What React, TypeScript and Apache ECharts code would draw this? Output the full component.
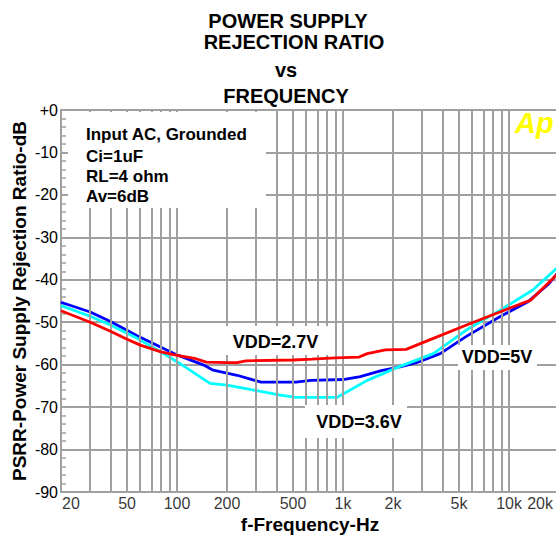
import React, { useEffect, useRef } from "react";
import * as echarts from "echarts";

// ---- data ----
const freqs27 = [20, 30, 40, 50, 60, 80, 100, 130, 150, 200, 230, 260, 500, 650, 900, 1250, 1400, 1800, 2400, 3500, 5500, 8800, 10500, 13500, 20000];
const psrr27 = [-47.3, -50.0, -52.2, -54.0, -55.4, -57.0, -57.8, -58.6, -59.4, -59.5, -59.5, -59.1, -58.9, -58.7, -58.4, -58.2, -57.4, -56.5, -56.4, -53.8, -50.7, -47.6, -46.4, -44.8, -38.3];

const freqs5 = [20, 30, 40, 57.5, 83, 100, 145, 165, 230, 320, 520, 640, 1000, 1270, 1700, 2200, 2750, 3850, 5500, 8800, 13000, 17400, 20000];
const psrr5 = [-45.3, -47.6, -49.9, -53.2, -56.2, -57.7, -60.1, -61.3, -62.5, -64.1, -64.1, -63.7, -63.5, -62.8, -61.4, -60.5, -59.6, -57.4, -53.4, -48.7, -45.2, -40.9, -38.0];

const freqs36 = [20, 30, 40, 57.5, 80, 100, 158, 200, 290, 420, 520, 920, 1000, 1400, 2200, 3500, 5500, 8800, 13900, 20000];
const psrr36 = [-46.1, -48.6, -50.7, -53.8, -57.0, -59.3, -64.4, -64.8, -66.0, -67.2, -67.7, -67.7, -66.9, -63.7, -60.4, -57.4, -51.9, -47.2, -42.4, -36.8];

const gridFreqs = [30, 40, 50, 60, 70, 80, 90, 100, 200, 300, 400, 500, 600, 700, 800, 900, 1000, 2000, 3000, 4000, 5000, 6000, 7000, 8000, 9000, 10000];
const xTickFreqs = [20, 50, 100, 200, 500, 1000, 2000, 5000, 10000, 20000];
const xTickLabels = ["20", "50", "100", "200", "500", "1k", "2k", "5k", "10k", "20k"];

const titleLines = ["POWER SUPPLY", "REJECTION RATIO", "vs", "FREQUENCY"];
const noteLines = ["Input AC, Grounded", "Ci=1uF", "RL=4 ohm", "Av=6dB"];
const curveLabels = ["VDD=2.7V", "VDD=3.6V", "VDD=5V"];

const FONT = "'Liberation Sans', Arial, Helvetica, sans-serif";
const GRID_COLOR = "#a0a0a0";

function zip(xs: number[], ys: number[]) {
  return xs.map((x, i) => [x, ys[i]]);
}

export default function App() {
  const ref = useRef<HTMLDivElement | null>(null);

  useEffect(() => {
    if (!ref.current) return;
    const chart = echarts.init(ref.current, undefined, { renderer: "svg" });

    const titlePos = [
      [288, 20.5],
      [294, 41.5],
      [286, 70],
      [286, 96],
    ];
    const notePos = [134, 156, 176, 196];
    const labelPos = [
      [275.5, 341.8],
      [359, 421.8],
      [497, 356.8],
    ];

    const graphic: any[] = [
      // white boxes behind annotations
      { type: "rect", z: 100, shape: { x: 68, y: 112, width: 198, height: 96 }, style: { fill: "#fff" } },
      { type: "rect", z: 100, shape: { x: 222, y: 326, width: 108, height: 29 }, style: { fill: "#fff" } },
      { type: "rect", z: 100, shape: { x: 305, y: 405, width: 102, height: 33 }, style: { fill: "#fff" } },
      { type: "rect", z: 100, shape: { x: 458, y: 345, width: 79, height: 25 }, style: { fill: "#fff" } },
    ];
    titleLines.forEach((t, i) => {
      graphic.push({
        type: "text", z: 101, x: titlePos[i][0], y: titlePos[i][1],
        style: { text: t, font: `bold 20px ${FONT}`, fill: "#000", align: "center", verticalAlign: "middle" },
      });
    });
    noteLines.forEach((t, i) => {
      graphic.push({
        type: "text", z: 101, x: 86, y: notePos[i],
        style: { text: t, font: `bold 17px ${FONT}`, fill: "#000", align: "left", verticalAlign: "middle" },
      });
    });
    curveLabels.forEach((t, i) => {
      graphic.push({
        type: "text", z: 101, x: labelPos[i][0], y: labelPos[i][1],
        style: { text: t, font: `bold 18px ${FONT}`, fill: "#000", align: "center", verticalAlign: "middle" },
      });
    });
    graphic.push({
      type: "text", z: 101, x: 515, y: 123,
      style: { text: "Ap", font: `italic bold 29px ${FONT}`, fill: "#ffff00", align: "left", verticalAlign: "middle" },
    });
    graphic.push({
      type: "text", z: 101, x: 310, y: 524.5,
      style: { text: "f-Frequency-Hz", font: `bold 19px ${FONT}`, fill: "#000", align: "center", verticalAlign: "middle" },
    });
    graphic.push({
      type: "text", z: 101, x: 19, y: 301, rotation: Math.PI / 2,
      style: { text: "PSRR-Power Supply Rejection Ratio-dB", font: `bold 19px ${FONT}`, fill: "#000", align: "center", verticalAlign: "middle" },
    });

    const lineSeries = (name: string, xs: number[], ys: number[], color: string, z: number) => ({
      type: "line",
      name,
      data: zip(xs, ys),
      showSymbol: false,
      symbol: "none",
      z,
      lineStyle: { color, width: 2.8 },
      silent: true,
    });

    chart.setOption({
      animation: false,
      backgroundColor: "#fff",
      grid: { left: 61, top: 110, width: 498, height: 382 },
      xAxis: {
        type: "log",
        logBase: 10,
        min: 20,
        max: 20000,
        axisLine: { show: true, lineStyle: { color: GRID_COLOR, width: 2 } },
        axisTick: { show: false },
        axisLabel: { show: false },
        splitLine: { show: false },
        minorTick: { show: false },
        minorSplitLine: { show: false },
      },
      yAxis: {
        type: "value",
        min: -90,
        max: 0,
        interval: 10,
        axisLine: { show: true, lineStyle: { color: GRID_COLOR, width: 2 } },
        axisTick: { show: true, inside: true, length: 5, lineStyle: { color: GRID_COLOR, width: 1.5 } },
        minorTick: { show: true, splitNumber: 5, length: 5, lineStyle: { color: GRID_COLOR, width: 1.5 } },
        splitLine: { show: true, lineStyle: { color: GRID_COLOR, width: 2 } },
        axisLabel: {
          margin: 3,
          fontSize: 16,
          fontFamily: FONT,
          color: "#000",
          formatter: (v: number) => (v === 0 ? "+0" : String(v)),
        },
      },
      graphic,
      series: [
        {
          type: "scatter",
          z: 1,
          symbolSize: 1,
          itemStyle: { color: "rgba(0,0,0,0)" },
          silent: true,
          clip: false,
          data: xTickFreqs.map((f, i) => ({
            value: [f, -90],
            label: {
              show: true,
              position: "bottom",
              distance: 3,
              formatter: xTickLabels[i],
              fontSize: 16,
              fontFamily: FONT,
              color: "#000",
              align: i === 0 ? "left" : i === xTickFreqs.length - 1 ? "right" : "center",
              offset: i === 0 ? [1, 0] : i === xTickFreqs.length - 1 ? [-6, 0] : [0, 0],
            },
          })),
          markLine: {
            silent: true,
            symbol: ["none", "none"],
            label: { show: false },
            lineStyle: { color: GRID_COLOR, width: 2, type: "solid" },
            data: gridFreqs.map((f) => ({ xAxis: f })),
          },
        },
        lineSeries("VDD=5V", freqs5, psrr5, "#0000ff", 3),
        lineSeries("VDD=3.6V", freqs36, psrr36, "#00ffff", 4),
        lineSeries("VDD=2.7V", freqs27, psrr27, "#ff0000", 5),
      ],
    });

    return () => {
      chart.dispose();
    };
  }, []);

  return (
    <div
      style={{
        position: "fixed",
        left: 0,
        top: 0,
        width: 556,
        height: 537,
        overflow: "hidden",
        background: "#fff",
      }}
    >
      <div ref={ref} style={{ width: 575, height: 537 }} />
    </div>
  );
}
